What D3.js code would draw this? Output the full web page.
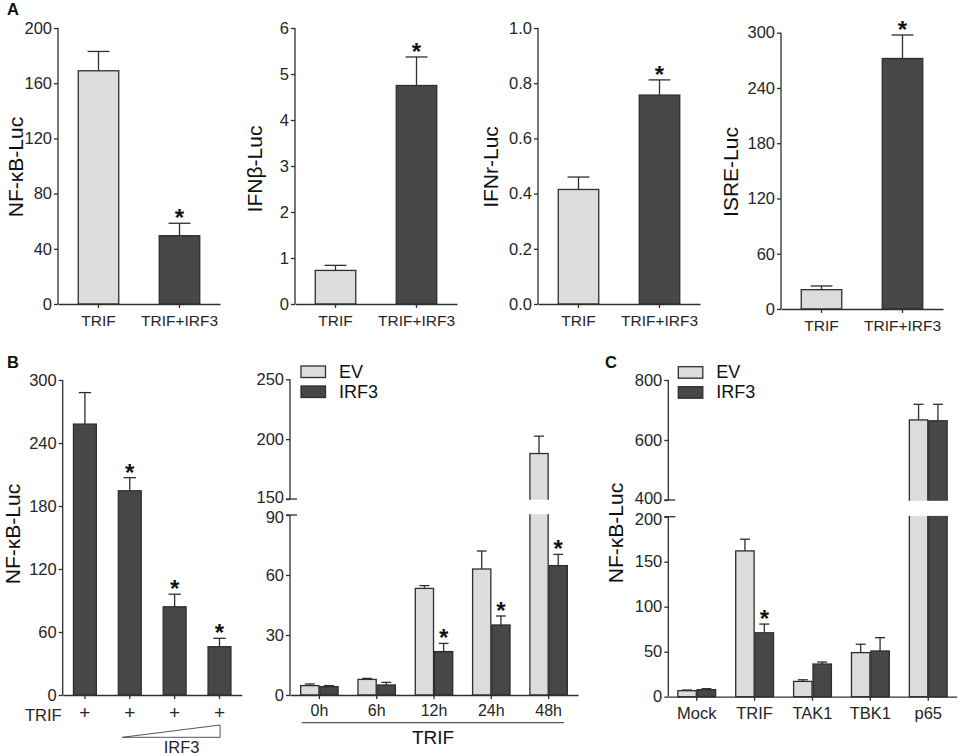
<!DOCTYPE html>
<html><head><meta charset="utf-8">
<script src="https://cdn.jsdelivr.net/npm/d3@7"></script>
<style>
body{margin:0;background:#fff}
text{font-family:Arial,"Liberation Sans",Helvetica,sans-serif}
</style>
</head><body>
<svg id="c" width="959" height="756"></svg>
<script>
// ---------- DATA ----------
const seriesKeys = ["EV", "IRF3"];

// Panel A
const aCategories = ["TRIF", "TRIF+IRF3"];
const aNFkB = [169, 49.5];      const aNFkBErr = [14, 9];       const aNFkBStar = [false, true];
const aIFNb = [0.73, 4.75];     const aIFNbErr = [0.11, 0.62];  const aIFNbStar = [false, true];
const aIFNr = [0.415, 0.757];   const aIFNrErr = [0.045, 0.055];const aIFNrStar = [false, true];
const aISRE = [21, 272];        const aISREErr = [4, 25.5];     const aISREStar = [false, true];
const aNFkBTicks = [0, 40, 80, 120, 160, 200];
const aIFNbTicks = [0, 1, 2, 3, 4, 5, 6];
const aIFNrTicks = [0, 0.2, 0.4, 0.6, 0.8, 1.0];
const aISRETicks = [0, 60, 120, 180, 240, 300];

// Panel B (dose)
const bDoseCategories = ["d1", "d2", "d3", "d4"];
const bDoseTRIF = ["+", "+", "+", "+"];
const bDose = [258, 194.5, 84, 46];
const bDoseErr = [30, 12.5, 12, 8];
const bDoseStar = [false, true, true, true];
const bDoseTicks = [0, 60, 120, 180, 240, 300];

// Panel B (time course)
const bTimeCategories = ["0h", "6h", "12h", "24h", "48h"];
const bTimeEV = [4.7, 7.8, 53.3, 63, 188];
const bTimeEVErr = [0.8, 0.5, 1.4, 9, 14.5];
const bTimeIRF3 = [4.2, 5, 21.7, 35, 64.7];
const bTimeIRF3Err = [0.5, 1.3, 4.1, 4.5, 5.6];
const bTimeIRF3Star = [false, false, true, true, true];
const bTimeTicksLow = [0, 30, 60, 90];
const bTimeTicksHigh = [150, 200, 250];

// Panel C
const cCategories = ["Mock", "TRIF", "TAK1", "TBK1", "p65"];
const cEV = [6.7, 162, 17, 49, 667];
const cEVErr = [0.7, 13, 1.8, 9.3, 52];
const cIRF3 = [7.8, 71, 36.3, 50.8, 664];
const cIRF3Err = [1.1, 9.7, 2.2, 14.8, 55];
const cIRF3Star = [false, true, false, false, false];
const cTicksLow = [0, 50, 100, 150, 200];
const cTicksHigh = [400, 600, 800];

// ---------- STYLE ----------
const LIGHT = "#dcdcdc", DARK = "#474747", LINE = "#2e2e2e", TXT = "#262626";
const FONT = "Arial, 'Liberation Sans', Helvetica, sans-serif";
const svg = d3.select("#c");

function yAxis(x, y, ticks, fmt, segments, breakVals) {
  const g = svg.append("g").attr("transform", `translate(${x},0)`)
    .call(d3.axisLeft(y).tickValues(ticks).tickSize(4).tickPadding(2).tickFormat(fmt));
  g.attr("font-size", 16.5).attr("font-family", FONT);
  g.select(".domain").remove();
  g.selectAll(".tick line").attr("stroke", LINE).attr("stroke-width", 1.3);
  g.selectAll(".tick text").attr("fill", TXT);
  if (breakVals) {
    g.selectAll(".tick text").filter(d => d === breakVals[1]).attr("dy", "0.2em");
    g.selectAll(".tick text").filter(d => d === breakVals[0]).attr("dy", "0.45em");
  }
  segments.forEach(([a, b]) => {
    svg.append("line").attr("x1", x).attr("x2", x).attr("y1", y(a)).attr("y2", y(b))
      .attr("stroke", LINE).attr("stroke-width", 1.3);
  });
  (breakVals || []).forEach(v => {
    svg.append("line").attr("x1", x - 4).attr("x2", x + 7).attr("y1", y(v)).attr("y2", y(v))
      .attr("stroke", LINE).attr("stroke-width", 1.3);
  });
}

function xAxis(yPos, band, labels, fontSize, pad) {
  const g = svg.append("g").attr("transform", `translate(0,${yPos})`)
    .call(d3.axisBottom(band).tickSize(4).tickSizeOuter(0).tickPadding(pad)
      .tickFormat((d, i) => labels[i]));
  g.attr("font-size", fontSize).attr("font-family", FONT);
  g.select(".domain").attr("stroke", LINE).attr("stroke-width", 1.3);
  g.selectAll(".tick line").attr("stroke", LINE).attr("stroke-width", 1.3);
  g.selectAll(".tick text").attr("fill", TXT);
  return g;
}

function bar(x, w, y, v, e, fill, star, gap) {
  svg.append("line").attr("x1", x + w / 2).attr("x2", x + w / 2)
    .attr("y1", y(v)).attr("y2", y(v + e)).attr("stroke", LINE).attr("stroke-width", 1.3);
  svg.append("line").attr("x1", x + w / 2 - w * 0.27).attr("x2", x + w / 2 + w * 0.27)
    .attr("y1", y(v + e)).attr("y2", y(v + e)).attr("stroke", LINE).attr("stroke-width", 1.3);
  svg.append("rect").attr("x", x).attr("y", y(v)).attr("width", w).attr("height", y(0) - y(v))
    .attr("fill", fill).attr("stroke", LINE).attr("stroke-width", 1.3);
  if (gap && v > gap[1]) {
    svg.append("rect").attr("x", x - 2).attr("width", w + 4)
      .attr("y", y(gap[1]) + 0.8).attr("height", y(gap[0]) - y(gap[1]) - 1.6).attr("fill", "#fff");
  }
  if (star) {
    svg.append("text").attr("x", x + w / 2).attr("y", y(v + e) + 3).attr("text-anchor", "middle")
      .attr("font-size", 24).attr("font-weight", "bold").attr("fill", "#111").text("*");
  }
}

function yLabel(x, yc, txt) {
  svg.append("text").attr("transform", `translate(${x},${yc}) rotate(-90)`)
    .attr("text-anchor", "middle").attr("font-size", 21).attr("fill", "#111").text(txt);
}

function letter(x, yb, t) {
  svg.append("text").attr("x", x).attr("y", yb).attr("font-size", 16.5)
    .attr("font-weight", "bold").attr("fill", "#111").text(t);
}

// ---------- PANEL A ----------
function panelA(x0, x1, yTop, yBot, max, ticks, fmt, vals, errs, stars, lab, labX, labY) {
  const y = d3.scaleLinear().domain([0, max]).range([yBot, yTop]);
  const band = d3.scaleBand().domain(aCategories).range([x0, x1]).paddingInner(0.5).paddingOuter(0.25);
  aCategories.forEach((c, i) => bar(band(c), band.bandwidth(), y, vals[i], errs[i], i === 0 ? LIGHT : DARK, stars[i]));
  yAxis(x0, y, ticks, fmt, [[0, max]]);
  xAxis(yBot, band, aCategories, 15.5, 6.5);
  yLabel(labX, labY, lab);
}
panelA(58, 220, 28, 304, 200, aNFkBTicks, d3.format("d"), aNFkB, aNFkBErr, aNFkBStar, "NF-κB-Luc", 23, 167);
panelA(295, 457, 28, 304, 6, aIFNbTicks, d3.format("d"), aIFNb, aIFNbErr, aIFNbStar, "IFNβ-Luc", 262, 169);
panelA(538, 700, 28, 304, 1.0, aIFNrTicks, d3.format(".1f"), aIFNr, aIFNrErr, aIFNrStar, "IFNr-Luc", 498, 167);
panelA(781, 943, 32.7, 309, 300, aISRETicks, d3.format("d"), aISRE, aISREErr, aISREStar, "ISRE-Luc", 738, 172);
letter(7, 15, "A");

// ---------- PANEL B (dose) ----------
{
  const y = d3.scaleLinear().domain([0, 300]).range([695, 380]);
  const band = d3.scaleBand().domain(bDoseCategories).range([62.7, 241.7]).paddingInner(0.49).paddingOuter(0.24);
  bDoseCategories.forEach((c, i) => bar(band(c), band.bandwidth(), y, bDose[i], bDoseErr[i], DARK, bDoseStar[i]));
  yAxis(62.7, y, bDoseTicks, d3.format("d"), [[0, 300]]);
  xAxis(695, band, bDoseTRIF, 19, 7);
  svg.append("text").attr("x", 25).attr("y", 721).attr("font-size", 16.5).attr("fill", TXT).text("TRIF");
  const c2 = band("d2") + band.bandwidth() / 2, c4 = band("d4") + band.bandwidth() / 2;
  svg.append("path").attr("d", `M${c2 - 7.5},737.3 L${c4 + 0.6},737.3 L${c4 + 0.6},725 Z`)
    .attr("fill", "#fff").attr("stroke", "#555").attr("stroke-width", 1);
  svg.append("text").attr("x", (c2 + c4) / 2 + 7).attr("y", 753).attr("text-anchor", "middle")
    .attr("font-size", 16.5).attr("fill", TXT).text("IRF3");
  yLabel(20, 534, "NF-κB-Luc");
  letter(7, 368.3, "B");
}

// ---------- legend ----------
function legend(x, y0) {
  seriesKeys.forEach((k, i) => {
    svg.append("rect").attr("x", x).attr("y", y0 + i * 20).attr("width", 24.5).attr("height", 11.5)
      .attr("fill", i === 0 ? LIGHT : DARK).attr("stroke", LINE).attr("stroke-width", 1.3);
    svg.append("text").attr("x", x + 38).attr("y", y0 + i * 20 + 11.5).attr("font-size", 18)
      .attr("fill", "#111").text(k);
  });
}

// ---------- PANEL B (time) ----------
{
  const y = d3.scaleLinear().domain([0, 90, 150, 250]).range([695, 515, 499, 379.3]);
  const band = d3.scaleBand().domain(bTimeCategories).range([290, 578]).paddingInner(0.347).paddingOuter(0.186);
  const sub = d3.scaleBand().domain(seriesKeys).range([0, band.bandwidth()]).paddingInner(0.05);
  bTimeCategories.forEach((c, i) => {
    bar(band(c) + sub("EV"), sub.bandwidth(), y, bTimeEV[i], bTimeEVErr[i], LIGHT, false, [90, 150]);
    bar(band(c) + sub("IRF3"), sub.bandwidth(), y, bTimeIRF3[i], bTimeIRF3Err[i], DARK, bTimeIRF3Star[i], [90, 150]);
  });
  yAxis(290, y, bTimeTicksLow.concat(bTimeTicksHigh), d3.format("d"), [[0, 90], [150, 250]], [90, 150]);
  xAxis(695, band, bTimeCategories, 16, 6);
  svg.append("line").attr("x1", 301.7).attr("x2", 564).attr("y1", 722.7).attr("y2", 722.7)
    .attr("stroke", "#555").attr("stroke-width", 1.3);
  svg.append("text").attr("x", 433).attr("y", 744).attr("text-anchor", "middle").attr("font-size", 19)
    .attr("fill", "#111").text("TRIF");
  legend(301, 366);
}

// ---------- PANEL C ----------
{
  const y = d3.scaleLinear().domain([0, 200, 400, 800]).range([696.7, 516.7, 500, 380]);
  const band = d3.scaleBand().domain(cCategories).range([668.3, 956.7]).paddingInner(0.347).paddingOuter(0.165);
  const sub = d3.scaleBand().domain(seriesKeys).range([0, band.bandwidth()]).paddingInner(0.05);
  cCategories.forEach((c, i) => {
    bar(band(c) + sub("EV"), sub.bandwidth(), y, cEV[i], cEVErr[i], LIGHT, false, [200, 400]);
    bar(band(c) + sub("IRF3"), sub.bandwidth(), y, cIRF3[i], cIRF3Err[i], DARK, cIRF3Star[i], [200, 400]);
  });
  yAxis(668.3, y, cTicksLow.concat(cTicksHigh), d3.format("d"), [[0, 200], [400, 800]], [200, 400]);
  xAxis(696.7, band, cCategories, 16.5, 6.5);
  legend(678.3, 366.7);
  yLabel(623, 533, "NF-κB-Luc");
  letter(605, 368, "C");
}
</script>
</body></html>
